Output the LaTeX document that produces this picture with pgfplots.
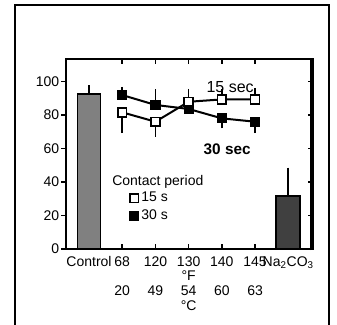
\documentclass[border=0pt]{standalone}
\usepackage{fontspec}
\setmainfont{Liberation Sans}
\usepackage{pgfplots}
\pgfplotsset{compat=1.18}
\definecolor{ctrlgray}{RGB}{128,128,128}
\definecolor{nagray}{RGB}{64,64,64}
\begin{document}
\begin{tikzpicture}[x=1pt,y=1pt]
\begin{axis}[
  at={(49.5pt,57pt)}, anchor=south west,
  scale only axis, width=185.25pt, height=142.5pt,
  xmin=-0.693, xmax=6.744, ymin=0, ymax=113.3,
  axis line style={line width=1.6pt},
  clip=false,
  /pgf/number format/assume math mode=true,
  tick align=outside,
  major tick length=3.4pt,
  ytick={0,20,...,100},
  ytick pos=left,
  ytick style={line width=1.2pt, black},
  xtick={0,...,6},
  xtick pos=bottom,
  xtick style={draw=none},
  xticklabels={Control,{68\\\phantom{°F}\\20},{120\\\phantom{°F}\\49},{130\\°F\\54\\°C},{140\\\phantom{°F}\\60},{145\\\phantom{°F}\\63},{Na\textsubscript{2}CO\textsubscript{3}}},
  xticklabel style={align=center, font=\fontsize{10.5}{11}\selectfont, inner sep=1pt, yshift=-1pt},
  yticklabel style={font=\fontsize{10.5}{11}\selectfont, inner sep=1.5pt},
  legend style={draw=none, fill=none, at={(axis description cs:0.255,0.31)}, anchor=north west,
    inner sep=0pt, row sep=1.5pt, nodes={inner sep=1.5pt}, font=\fontsize{10.5}{11}\selectfont},
  legend cell align=left,
]
% bars
\addplot[ybar, forget plot, bar width=17pt, bar shift=0pt, fill=ctrlgray, draw=black, line width=1.2pt,
  error bars/.cd, y dir=plus, y explicit, error bar style={line width=1.2pt}, error mark options={line width=1.2pt, mark size=3pt}]
  coordinates {(0,92.4) += (0,2.8)};
\addplot[ybar, forget plot, bar width=18pt, bar shift=0pt, fill=nagray, draw=black, line width=1.2pt,
  error bars/.cd, y dir=plus, y explicit, error bar style={line width=1.2pt}, error mark options={line width=1.2pt, mark size=3pt}]
  coordinates {(6,31.6) += (0,14.5)};
% error bars (drawn under the marks)
\addplot[draw=none, forget plot, mark=none, error bars/.cd, y dir=plus, y explicit, error bar style={line width=1.2pt}, error mark options={line width=1.2pt, mark size=2.4pt}]
  coordinates {(1,91.8) += (0,3) (2,85.9) += (0,7.5) (3,87.8) += (0,5.8) (4,89.2) += (0,4.5) (5,89.2) += (0,5)};
\addplot[draw=none, forget plot, mark=none, error bars/.cd, y dir=minus, y explicit, error bar style={line width=1.2pt}, error mark options={line width=1.2pt, mark size=2.4pt}]
  coordinates {(1,81.5) -= (0,10.5) (2,75.9) -= (0,7) (4,77.9) -= (0,4) (5,75.9) -= (0,4.9)};
% 30 s
\addplot[black, line width=1.5pt, mark=square*, mark size=3.3pt, mark options={fill=black, line width=1pt}, forget plot]
  coordinates {(1,91.8) (2,85.9) (3,83.5) (4,77.9) (5,75.9)};
% 15 s
\addplot[black, line width=1.5pt, mark=square*, mark size=3.3pt, mark options={fill=white, line width=1.2pt}, forget plot]
  coordinates {(1,81.5) (2,75.9) (3,87.8) (4,89.2) (5,89.2)};
\addlegendimage{legend image code/.code={\draw[black, fill=white, line width=1.2pt] (-3.2pt,-3.2pt) rectangle (3.2pt,3.2pt);}}
\addlegendentry{15 s}
\addlegendimage{legend image code/.code={\draw[black, fill=black, line width=1pt] (-3.2pt,-3.2pt) rectangle (3.2pt,3.2pt);}}
\addlegendentry{30 s}
\node[anchor=west, inner sep=0pt, font=\fontsize{10.5}{11}\selectfont] at (axis cs:0.693,40) {Contact period};
\node[inner sep=0pt, font=\fontsize{12}{12}\selectfont] at (axis cs:4.25,96.6) {15 sec};
\node[inner sep=0pt, font=\fontsize{11.5}{12}\selectfont\bfseries] at (axis cs:4.16,59.6) {30 sec};
\end{axis}
\begin{axis}[
  at={(49.5pt,57pt)}, anchor=south west,
  scale only axis, width=185.25pt, height=142.5pt,
  xmin=-0.693, xmax=6.744, ymin=0, ymax=113.3,
  axis line style={line width=1.6pt},
  clip=false,
  tick align=inside,
  major tick length=3.4pt,
  xtick={1,...,5}, xtick pos=both,
  ytick={0,20,...,100}, ytick pos=right,
  tick style={line width=1.2pt, black},
  xticklabels={}, yticklabels={},
]
\draw[line width=3.2pt] (rel axis cs:1,0) ++(-0.8pt,-0.8pt) -- ([xshift=-0.8pt,yshift=0.8pt]rel axis cs:1,1);
\end{axis}
% outer frame
\draw[line width=1.5pt] (11.25pt,-10pt) -- (11.25pt,240pt) -- (247.1pt,240pt) -- (247.1pt,-10pt);
\node[anchor=east, inner sep=0pt, font=\fontsize{20}{20}\selectfont] at (-0.5pt,194.25pt) {C};
\pgfresetboundingbox
\path[use as bounding box] (0,0) rectangle (252.75pt,243.75pt);
\end{tikzpicture}
\end{document}
